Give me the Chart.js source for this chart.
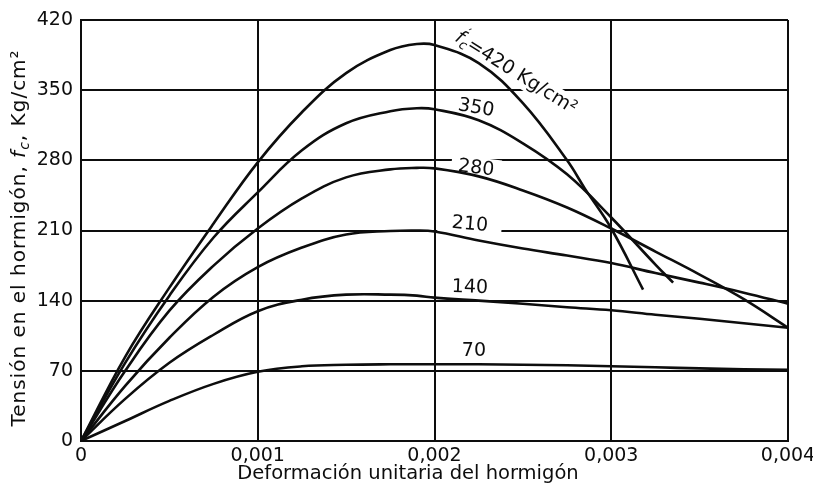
<!DOCTYPE html>
<html>
<head>
<meta charset="utf-8">
<script src="https://cdn.jsdelivr.net/npm/chart.js@4.4.1/dist/chart.umd.min.js"></script>
<style>
  html, body { margin: 0; padding: 0; background: #fff; }
</style>
</head>
<body>
<canvas id="chart" width="813" height="486"></canvas>
<script>
// axis ticks
const xTicks = [0, 0.001, 0.002, 0.003, 0.004];
const xTickLabels = ["0", "0,001", "0,002", "0,003", "0,004"];
const yTicks = [0, 70, 140, 210, 280, 350, 420];
const yTickLabels = ["0", "70", "140", "210", "280", "350", "420"];

// strain (deformación unitaria) for the curves that run to 0.004
const strain = [0, 0.00025, 0.0005, 0.00075, 0.001, 0.00125, 0.0015, 0.00175, 0.0019, 0.002,
  0.00225, 0.0025, 0.00275, 0.003, 0.00325, 0.0035, 0.00375, 0.004];

// stress curves, Kg/cm2
const strain420 = [0, 0.00025, 0.0005, 0.00075, 0.001, 0.00125, 0.0015, 0.00175, 0.0019, 0.002,
  0.00225, 0.0025, 0.00275, 0.00285, 0.003, 0.00318];
const fc420 = [0, 84, 153, 217, 278, 328, 367, 390, 396, 395, 377, 337, 280, 252, 212, 151];

const strain350 = [0, 0.00025, 0.0005, 0.00075, 0.001, 0.00125, 0.0015, 0.00175, 0.0019, 0.002,
  0.00225, 0.0025, 0.00275, 0.003, 0.00325, 0.00335];
const fc350 = [0, 78, 145, 203, 248, 290, 317, 329, 332, 331, 320, 297, 266, 223, 176, 158];

const fc280 = [0, 70, 130, 175, 212, 242, 263, 271, 272.5, 272, 264, 250, 233, 212, 189, 166, 141.5, 113];
const fc210 = [0, 55, 103, 144, 173.5, 193, 206, 209.5, 210, 209, 200, 192, 185, 177.5, 167.5, 158, 148, 137];
const fc140 = [0, 42, 78, 106, 129.5, 141, 146, 146, 145, 143, 140, 137, 133.5, 130.5, 126, 122, 117.5, 113];
const fc70 = [0, 20, 40, 57, 69, 74.5, 76, 76.5, 76.5, 76.5, 76.5, 76, 75.5, 74.5, 73.5, 72.5, 71.5, 71];

const INK = "#0d0d0d";
const FONT = "'DejaVu Sans', sans-serif";

function pts(xs, ys) {
  return xs.map((x, i) => ({ x: x, y: ys[i] }));
}

function drawRuns(ctx, runs, cx, cy, angle, spacing) {
  ctx.save();
  ctx.translate(cx, cy);
  ctx.rotate(angle * Math.PI / 180);
  ctx.textBaseline = "middle";
  ctx.textAlign = "left";
  ctx.fillStyle = INK;
  ctx.letterSpacing = (spacing || 0) + "px";
  let total = 0;
  runs.forEach(r => {
    ctx.font = r.font;
    r.w = r.stack ? 0 : ctx.measureText(r.t).width;
    total += r.w;
  });
  let x = -total / 2;
  runs.forEach(r => {
    ctx.font = r.font;
    ctx.fillText(r.t, x, r.dy || 0);
    x += r.w;
  });
  ctx.restore();
}

function mask(ctx, cx, cy, w, h, angle) {
  ctx.save();
  ctx.translate(cx, cy);
  ctx.rotate(angle * Math.PI / 180);
  ctx.fillStyle = "#fff";
  ctx.fillRect(-w / 2, -h / 2, w, h);
  ctx.restore();
}

const f19 = "19px " + FONT;
const fi19 = "italic 19px " + FONT;
const fs13 = "italic 13px " + FONT;

// curve labels: [runs, x value, y value, angle, mask width, mask height]
const labelDefs = [
  [[{ t: "f", font: fi19 }, { t: "\u2032", font: "13px " + FONT, dy: -8, stack: true }, { t: "c", font: fs13, dy: 5 },
    { t: "=420 Kg/cm\u00b2", font: f19 }], 0.00246, 367, 32, 152, 22],
  [[{ t: "350", font: f19 }], 0.002235, 332, 10, 0, 0],
  [[{ t: "280", font: f19 }], 0.002235, 272, 7, 50, 22],
  [[{ t: "210", font: f19 }], 0.0022, 216, 5, 64, 22],
  [[{ t: "140", font: f19 }], 0.0022, 153, 2, 0, 0],
  [[{ t: "70", font: f19 }], 0.002223, 90, 0, 0, 0]
];

const textPlugin = {
  id: "textPlugin",
  beforeDatasetsDraw(chart) {
    const ctx = chart.ctx;
    const xs = chart.scales.x, ys = chart.scales.y;
    labelDefs.forEach(d => {
      if (d[4] > 0) mask(ctx, xs.getPixelForValue(d[1]), ys.getPixelForValue(d[2]), d[4], d[5], d[3]);
    });
  },
  afterDatasetsDraw(chart) {
    const ctx = chart.ctx;
    const xs = chart.scales.x, ys = chart.scales.y;
    labelDefs.forEach(d => {
      drawRuns(ctx, d[0], xs.getPixelForValue(d[1]), ys.getPixelForValue(d[2]), d[3]);
    });
    // axis titles
    const f20 = "20px " + FONT;
    drawRuns(ctx, [
      { t: "Tensión en el hormigón, ", font: f20 },
      { t: "f", font: "italic 20px " + FONT },
      { t: "c", font: "italic 14px " + FONT, dy: 5 },
      { t: ", Kg/cm\u00b2", font: f20 }
    ], 20, 238, -90, 1);
    drawRuns(ctx, [{ t: "Deformación unitaria del hormigón", font: "19.5px " + FONT }], 408, 474, 0);
  }
};

function line(data) {
  return {
    data: data,
    borderColor: INK,
    borderWidth: 2.6,
    pointRadius: 0,
    fill: false,
    tension: 0.4
  };
}

new Chart(document.getElementById("chart"), {
  type: "line",
  data: {
    datasets: [
      line(pts(strain420, fc420)),
      line(pts(strain350, fc350)),
      line(pts(strain, fc280)),
      line(pts(strain, fc210)),
      line(pts(strain, fc140)),
      line(pts(strain, fc70))
    ]
  },
  options: {
    responsive: false,
    animation: false,
    layout: { padding: { top: 20, left: 0, right: 0, bottom: 0 } },
    plugins: { legend: { display: false }, tooltip: { enabled: false } },
    scales: {
      x: {
        type: "linear",
        min: 0,
        max: 0.004,
        afterBuildTicks: s => { s.ticks = xTicks.map(v => ({ value: v })); },
        afterFit: s => { s.height = 45; s.paddingRight = 25; s.paddingLeft = 0; },
        grid: { color: INK, lineWidth: 2, drawTicks: false },
        border: { color: INK, width: 2 },
        ticks: {
          padding: 4,
          color: INK,
          maxRotation: 0,
          font: { family: FONT, size: 19 },
          callback: (v, i) => xTickLabels[i]
        }
      },
      y: {
        min: 0,
        max: 420,
        afterBuildTicks: s => { s.ticks = yTicks.map(v => ({ value: v })); },
        afterFit: s => { s.width = 81; },
        grid: { color: INK, lineWidth: 2, drawTicks: false },
        border: { color: INK, width: 2 },
        ticks: {
          padding: 8,
          color: INK,
          font: { family: FONT, size: 19 },
          callback: (v, i) => yTickLabels[i]
        }
      }
    }
  },
  plugins: [textPlugin]
});
</script>
</body>
</html>
